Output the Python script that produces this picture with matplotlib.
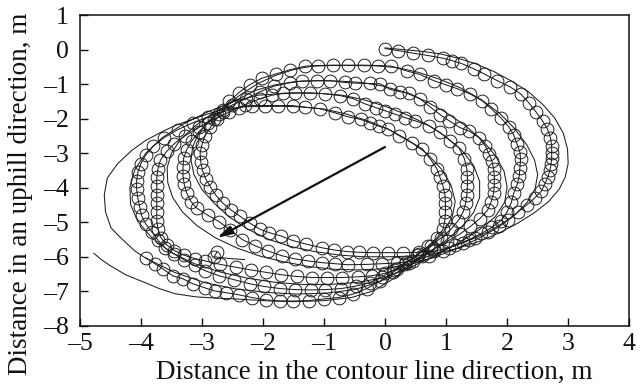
import matplotlib
matplotlib.use("Agg")
import matplotlib.pyplot as plt
from matplotlib.ticker import FuncFormatter

plt.rcParams["font.family"] = ["Liberation Serif", "DejaVu Serif"]

# measured path (circles), one list of (x, y) per loop, clockwise from the top
meas_loop1 = [(0.00, 0.03), (0.22, -0.03), (0.45, -0.10), (0.70, -0.17), (0.95, -0.25), (1.10, -0.32),
              (1.25, -0.40), (1.45, -0.55), (1.62, -0.70), (1.84, -0.90), (2.05, -1.08), (2.22, -1.28),
              (2.36, -1.55), (2.48, -1.82), (2.58, -2.06), (2.66, -2.30), (2.71, -2.55), (2.73, -2.78),
              (2.73, -2.98), (2.73, -3.15), (2.72, -3.32), (2.70, -3.50), (2.67, -3.68), (2.62, -3.88),
              (2.56, -4.10), (2.45, -4.30), (2.32, -4.50), (2.18, -4.70), (2.02, -4.92), (1.86, -5.10),
              (1.68, -5.28), (1.48, -5.45), (1.27, -5.60), (1.05, -5.74), (0.80, -5.84), (0.55, -5.87),
              (0.30, -5.88), (0.05, -5.88), (-0.20, -5.88), (-0.42, -5.87), (-0.62, -5.85), (-0.84, -5.80),
              (-1.03, -5.74), (-1.30, -5.63), (-1.51, -5.53), (-1.70, -5.40), (-1.90, -5.30), (-2.05, -5.20),
              (-2.22, -5.02), (-2.38, -4.82), (-2.52, -4.65), (-2.66, -4.44), (-2.77, -4.22), (-2.86, -3.98),
              (-2.94, -3.74), (-2.99, -3.50), (-3.02, -3.25), (-3.03, -3.00), (-3.00, -2.75), (-2.95, -2.50),
              (-2.86, -2.25), (-2.76, -2.00), (-2.66, -1.76), (-2.55, -1.50)]
meas_loop2 = [(-2.40, -1.25), (-2.22, -1.02), (-2.02, -0.83), (-1.78, -0.70), (-1.55, -0.58), (-1.31, -0.48),
              (-1.10, -0.46), (-0.85, -0.45), (-0.60, -0.45), (-0.35, -0.45), (-0.12, -0.46), (0.10, -0.48),
              (0.36, -0.62), (0.57, -0.72), (0.80, -0.90), (1.00, -1.02), (1.18, -1.13), (1.39, -1.28),
              (1.59, -1.48), (1.74, -1.71), (1.90, -1.98), (2.03, -2.24), (2.11, -2.48), (2.16, -2.72),
              (2.21, -2.97), (2.22, -3.18), (2.21, -3.42), (2.20, -3.65), (2.17, -3.88), (2.11, -4.15),
              (2.07, -4.42), (2.00, -4.70), (1.90, -4.95), (1.75, -5.15), (1.58, -5.32), (1.38, -5.50),
              (1.15, -5.66), (0.95, -5.82), (0.72, -5.98), (0.45, -6.12), (0.20, -6.18), (-0.05, -6.20),
              (-0.30, -6.22), (-0.61, -6.23), (-0.82, -6.20), (-1.03, -6.17), (-1.26, -6.12), (-1.48, -6.06),
              (-1.69, -5.97), (-1.92, -5.83), (-2.13, -5.68), (-2.34, -5.50), (-2.54, -5.22), (-2.72, -4.98),
              (-2.90, -4.80), (-3.08, -4.60), (-3.18, -4.40), (-3.25, -4.15), (-3.29, -3.90), (-3.31, -3.65),
              (-3.31, -3.40), (-3.30, -3.15), (-3.25, -2.90), (-3.17, -2.65), (-3.05, -2.38), (-2.90, -2.12),
              (-2.72, -1.85), (-2.50, -1.60), (-2.28, -1.42), (-2.05, -1.22)]
meas_loop3 = [(-1.82, -1.06), (-1.56, -0.96), (-1.36, -0.91), (-1.11, -0.90), (-0.90, -0.90), (-0.66, -0.95),
              (-0.49, -0.97), (-0.25, -0.98), (-0.08, -0.99), (0.08, -1.15), (0.25, -1.22), (0.39, -1.26),
              (0.57, -1.42), (0.74, -1.66), (0.90, -1.88), (1.05, -2.06), (1.23, -2.26), (1.38, -2.36),
              (1.54, -2.55), (1.64, -2.78), (1.70, -3.01), (1.75, -3.22), (1.78, -3.45), (1.79, -3.68),
              (1.79, -3.92), (1.78, -4.15), (1.74, -4.40), (1.68, -4.65), (1.55, -4.90), (1.40, -5.12),
              (1.22, -5.35), (1.02, -5.55), (0.80, -5.78), (0.60, -5.98), (0.40, -6.18), (0.20, -6.35),
              (0.00, -6.48), (-0.22, -6.55), (-0.45, -6.58), (-0.70, -6.60), (-0.95, -6.60), (-1.20, -6.60),
              (-1.45, -6.57), (-1.70, -6.52), (-1.95, -6.45), (-2.20, -6.38), (-2.45, -6.30), (-2.70, -6.22),
              (-2.95, -6.12), (-3.12, -6.05), (-3.30, -5.95), (-3.45, -5.82), (-3.58, -5.65), (-3.67, -5.45),
              (-3.72, -5.20), (-3.74, -4.95), (-3.74, -4.70), (-3.74, -4.45), (-3.74, -4.20), (-3.74, -3.95),
              (-3.74, -3.70), (-3.72, -3.45), (-3.68, -3.20), (-3.58, -2.95), (-3.45, -2.72), (-3.28, -2.50),
              (-3.05, -2.25), (-2.80, -2.02), (-2.55, -1.80), (-2.30, -1.60), (-2.05, -1.42)]
meas_loop4 = [(-1.85, -1.32), (-1.67, -1.26), (-1.48, -1.25), (-1.23, -1.25), (-0.98, -1.28), (-0.74, -1.33),
              (-0.52, -1.42), (-0.33, -1.57), (-0.15, -1.68), (0.00, -1.77), (0.16, -1.87), (0.33, -1.97),
              (0.49, -2.06), (0.72, -2.20), (0.90, -2.40), (1.07, -2.64), (1.21, -2.84), (1.30, -3.16),
              (1.34, -3.45), (1.35, -3.70), (1.35, -3.95), (1.34, -4.20), (1.32, -4.45), (1.28, -4.70),
              (1.20, -4.95), (1.08, -5.20), (0.92, -5.45), (0.75, -5.68), (0.55, -5.92), (0.35, -6.15),
              (0.15, -6.38), (-0.05, -6.58), (-0.25, -6.75), (-0.48, -6.85), (-0.72, -6.92), (-0.98, -6.95),
              (-1.22, -6.96), (-1.48, -6.95), (-1.72, -6.92), (-1.98, -6.86), (-2.22, -6.78), (-2.48, -6.66),
              (-2.72, -6.55), (-2.95, -6.40), (-3.12, -6.25), (-3.30, -6.08), (-3.45, -5.92), (-3.60, -5.75),
              (-3.72, -5.52), (-3.82, -5.28), (-3.92, -5.05), (-3.99, -4.80), (-4.02, -4.55), (-4.05, -4.30),
              (-4.07, -4.05), (-4.07, -3.80), (-4.05, -3.55), (-4.00, -3.30), (-3.92, -3.05), (-3.80, -2.80),
              (-3.62, -2.55), (-3.40, -2.32), (-3.15, -2.12), (-2.90, -1.95), (-2.65, -1.80), (-2.40, -1.68)]
meas_loop5 = [(-2.18, -1.62), (-1.97, -1.62), (-1.75, -1.62), (-1.51, -1.62), (-1.31, -1.67), (-1.07, -1.71),
              (-0.82, -1.83), (-0.60, -1.95), (-0.40, -2.02), (-0.25, -2.12), (-0.10, -2.22), (0.05, -2.30),
              (0.23, -2.49), (0.44, -2.70), (0.61, -2.87), (0.74, -3.16), (0.85, -3.45), (0.90, -3.70),
              (0.95, -3.95), (0.98, -4.20), (0.99, -4.45), (0.99, -4.70), (0.98, -4.95), (0.95, -5.20),
              (0.85, -5.45), (0.70, -5.70), (0.52, -5.95), (0.33, -6.20), (0.13, -6.45), (-0.08, -6.70),
              (-0.30, -6.92), (-0.52, -7.08), (-0.76, -7.18), (-1.00, -7.22), (-1.25, -7.27), (-1.50, -7.28),
              (-1.72, -7.28), (-1.95, -7.25), (-2.18, -7.18), (-2.40, -7.10), (-2.60, -7.04), (-2.79, -6.99),
              (-2.95, -6.90), (-3.15, -6.78), (-3.31, -6.64), (-3.48, -6.55), (-3.64, -6.35), (-3.77, -6.20),
              (-3.92, -6.03)]
# short separate piece under the arrow head
meas_stub = [(-2.75, -5.85), (-2.80, -6.00)]

# simulated path (plain line), same loop order
sim_loop1 = [(0.00, 0.05), (0.30, 0.00), (0.60, -0.05), (0.90, -0.12), (1.20, -0.25), (1.50, -0.42),
             (1.80, -0.65), (2.08, -0.92), (2.35, -1.22), (2.58, -1.58), (2.78, -1.98), (2.92, -2.42),
             (2.99, -2.88), (3.00, -3.30), (2.95, -3.70), (2.85, -4.05), (2.68, -4.40), (2.45, -4.72),
             (2.18, -5.02), (1.88, -5.30), (1.55, -5.55), (1.20, -5.75), (0.85, -5.90), (0.45, -5.98),
             (0.05, -6.00), (-0.35, -6.00), (-0.75, -5.95), (-1.15, -5.85), (-1.55, -5.70), (-1.90, -5.50),
             (-2.25, -5.20), (-2.55, -4.85), (-2.80, -4.45), (-3.00, -4.05), (-3.13, -3.62), (-3.18, -3.20),
             (-3.15, -2.80), (-3.05, -2.42), (-2.88, -2.05), (-2.65, -1.70), (-2.38, -1.32), (-2.08, -0.98)]
sim_loop2 = [(-1.80, -0.75), (-1.50, -0.58), (-1.20, -0.48), (-0.85, -0.46), (-0.50, -0.46), (-0.15, -0.47),
             (0.20, -0.52), (0.55, -0.66), (0.90, -0.86), (1.25, -1.12), (1.58, -1.45), (1.88, -1.85),
             (2.12, -2.28), (2.32, -2.75), (2.45, -3.20), (2.50, -3.62), (2.46, -4.02), (2.33, -4.42),
             (2.12, -4.80), (1.85, -5.15), (1.52, -5.48), (1.15, -5.78), (0.75, -6.05), (0.35, -6.25),
             (-0.05, -6.35), (-0.45, -6.38), (-0.85, -6.36), (-1.25, -6.28), (-1.65, -6.15), (-2.05, -5.98),
             (-2.42, -5.75), (-2.78, -5.45), (-3.08, -5.10), (-3.32, -4.70), (-3.48, -4.28), (-3.56, -3.85),
             (-3.57, -3.42), (-3.50, -3.00), (-3.35, -2.60), (-3.12, -2.22), (-2.82, -1.85), (-2.48, -1.50),
             (-2.12, -1.18)]
sim_loop3 = [(-1.80, -1.02), (-1.45, -0.92), (-1.10, -0.90), (-0.75, -0.91), (-0.40, -0.95), (-0.05, -1.05),
             (0.30, -1.22), (0.65, -1.48), (0.98, -1.80), (1.30, -2.18), (1.58, -2.60), (1.80, -3.05),
             (1.95, -3.52), (2.00, -3.98), (1.96, -4.42), (1.80, -4.85), (1.52, -5.25), (1.18, -5.62),
             (0.80, -5.98), (0.40, -6.32), (0.00, -6.60), (-0.45, -6.74), (-0.90, -6.80), (-1.35, -6.80),
             (-1.80, -6.74), (-2.25, -6.62), (-2.70, -6.44), (-3.12, -6.20), (-3.50, -5.88), (-3.82, -5.45),
             (-4.05, -4.98), (-4.17, -4.48), (-4.18, -3.98), (-4.10, -3.48), (-3.92, -3.00), (-3.65, -2.55),
             (-3.30, -2.15), (-2.90, -1.80), (-2.48, -1.50), (-2.08, -1.32)]
sim_loop4 = [(-1.75, -1.28), (-1.40, -1.26), (-1.05, -1.27), (-0.70, -1.32), (-0.35, -1.45), (0.00, -1.64),
             (0.35, -1.88), (0.68, -2.16), (0.98, -2.50), (1.25, -2.90), (1.45, -3.35), (1.55, -3.82),
             (1.55, -4.28), (1.45, -4.72), (1.25, -5.15), (0.98, -5.55), (0.65, -5.95), (0.30, -6.35),
             (-0.08, -6.72), (-0.50, -6.95), (-0.95, -7.05), (-1.45, -7.08), (-1.95, -7.03), (-2.45, -6.93),
             (-2.95, -6.75), (-3.45, -6.45), (-3.93, -6.03), (-4.10, -5.83), (-4.33, -5.45), (-4.49, -5.16),
             (-4.58, -4.70), (-4.60, -4.20), (-4.55, -3.72), (-4.38, -3.30), (-4.15, -2.92), (-3.93, -2.64),
             (-3.68, -2.40), (-3.44, -2.20), (-3.05, -1.95), (-2.69, -1.74), (-2.30, -1.65)]
sim_loop5 = [(-2.05, -1.65), (-1.70, -1.64), (-1.35, -1.66), (-1.00, -1.72), (-0.65, -1.86), (-0.30, -2.05),
             (0.05, -2.30), (0.38, -2.62), (0.68, -3.00), (0.92, -3.45), (1.08, -3.92), (1.15, -4.40),
             (1.10, -4.85), (0.95, -5.30), (0.72, -5.75), (0.45, -6.20), (0.15, -6.62), (-0.18, -6.98),
             (-0.55, -7.18), (-1.00, -7.27), (-1.50, -7.30), (-2.00, -7.27), (-2.45, -7.22), (-2.74, -7.20),
             (-3.10, -7.16), (-3.44, -7.07), (-3.70, -6.92), (-3.93, -6.75), (-4.25, -6.52), (-4.50, -6.26),
             (-4.65, -6.08), (-4.77, -5.90)]
sim_stub = [(-2.80, -6.00), (-2.55, -6.05), (-2.30, -6.08)]

# drift of the loop centres
drift_start = (0.0, -2.82)
drift_end = (-2.75, -5.45)

meas = meas_loop1 + meas_loop2 + meas_loop3 + meas_loop4 + meas_loop5
sim = sim_loop1 + sim_loop2 + sim_loop3 + sim_loop4 + sim_loop5

fig = plt.figure(figsize=(6.44, 3.87), dpi=100)
ax = fig.add_axes([0.124, 0.158, 0.853, 0.803])

ink = "#1e1e1e"
circ = dict(color=ink, lw=0.75, marker="o", ms=9.2, mfc="none", mec=ink, mew=0.7)
for path in (sim, sim_stub):
    ax.plot([p[0] for p in path], [p[1] for p in path], color=ink, lw=0.75)
for path in (meas, meas_stub):
    ax.plot([p[0] for p in path], [p[1] for p in path], **circ)

ax.annotate("", xy=drift_end, xytext=drift_start,
            arrowprops=dict(arrowstyle="-|>,head_length=0.9,head_width=0.25",
                            color="#111111", lw=1.6, shrinkA=0, shrinkB=0))

ax.set_xlim(-5, 4)
ax.set_ylim(-8, 1)
ax.set_xticks(range(-5, 5))
ax.set_yticks(range(-8, 2))
dash = FuncFormatter(lambda v, pos: f"{int(v)}".replace("-", "\u2013"))
ax.xaxis.set_major_formatter(dash)
ax.yaxis.set_major_formatter(dash)
ax.tick_params(direction="in", length=6, width=1.0, labelsize=18.5,
               top=False, right=False, colors="#111111")
ax.tick_params(axis="x", pad=5)
ax.tick_params(axis="y", pad=8)
for s in ax.spines.values():
    s.set_linewidth(1.1)
    s.set_color("#111111")

# axis titles placed on the figure so they can sit off-centre
fig.text(0.581, 0.038, "Distance in the contour line direction, m", fontsize=19.5,
         ha="center", va="center", color="#111111")
fig.text(0.032, 0.50, "Distance in an uphill direction, m", fontsize=19.5,
         ha="center", va="center", rotation=90, color="#111111")

fig.savefig("out.png", dpi=100)
